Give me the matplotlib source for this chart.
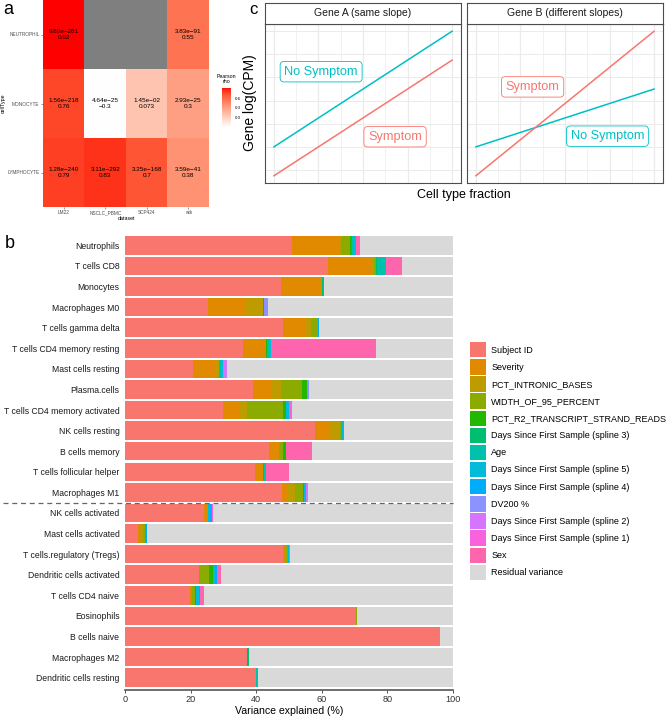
import numpy as np
import matplotlib
matplotlib.use("Agg")
import matplotlib.pyplot as plt
from matplotlib.colors import ListedColormap, Normalize
from matplotlib.patches import Patch

plt.rcParams['font.family'] = ['Liberation Sans', 'DejaVu Sans']

# ---------------- Panel a data ----------------
hm_datasets = ["LM22", "NSCLC_PBMC", "SCP424", "wtk"]
hm_celltypes = ["NEUTROPHIL", "MONOCYTE", "LYMPHOCYTE"]
hm_rho = [[0.92, np.nan, np.nan, 0.55],
          [0.76, -0.3, 0.073, 0.3],
          [0.79, 0.83, 0.7, 0.38]]
hm_p = [["9.89e\u2212281", None, None, "3.83e\u221291"],
        ["1.56e\u2212218", "4.64e\u221225", "1.45e\u221202", "2.93e\u221225"],
        ["1.28e\u2212240", "3.11e\u2212292", "3.25e\u2212168", "3.59e\u221241"]]
hm_rho_txt = [["0.92", None, None, "0.55"],
              ["0.76", "\u22120.3", "0.073", "0.3"],
              ["0.79", "0.83", "0.7", "0.38"]]
cbar_ticks = [0.0, 0.3, 0.6]

# ---------------- Panel b data ----------------
cell_types = ["Neutrophils", "T cells CD8", "Monocytes", "Macrophages M0",
              "T cells gamma delta", "T cells CD4 memory resting", "Mast cells resting",
              "Plasma.cells", "T cells CD4 memory activated", "NK cells resting",
              "B cells memory", "T cells follicular helper", "Macrophages M1",
              "NK cells activated", "Mast cells activated", "T cells.regulatory (Tregs)",
              "Dendritic cells activated", "T cells CD4 naive", "Eosinophils",
              "B cells naive", "Macrophages M2", "Dendritic cells resting"]
components = ["Subject ID", "Severity", "PCT_INTRONIC_BASES", "WIDTH_OF_95_PERCENT",
              "PCT_R2_TRANSCRIPT_STRAND_READS", "Days Since First Sample (spline 3)", "Age",
              "Days Since First Sample (spline 5)", "Days Since First Sample (spline 4)",
              "DV200 %", "Days Since First Sample (spline 2)",
              "Days Since First Sample (spline 1)", "Sex"]
comp_colors = ["#F8766D", "#E18A00", "#BE9C00", "#8CAB00", "#24B700", "#00BE70",
               "#00C1AB", "#00BBDA", "#00ACFC", "#8B93FF", "#D575FE", "#F962DD", "#FF65AC"]
residual_color = "#D9D9D9"

subject_id = [51.0, 62.0, 47.6, 25.4, 48.3, 36.1, 20.7, 39.0, 29.9, 58.0, 43.9, 39.7, 48.0,
              24.0, 4.1, 48.2, 22.5, 19.8, 70.5, 96.1, 37.1, 39.8]
severity = [14.4, 13.3, 12.3, 11.2, 6.8, 6.9, 6.8, 5.8, 5.0, 4.4, 2.9, 2.4, 1.6,
            1.1, 0.5, 0.7, 0.2, 0.3, 0, 0, 0, 0]
pct_intronic = [0.5, 0.7, 0.3, 5.4, 1.6, 0, 1.2, 2.8, 2.2, 3.0, 0.3, 0, 2.3,
                0.3, 1.0, 0.3, 0, 0.3, 0, 0, 0, 0]
width95 = [2.6, 0.6, 0, 0, 2.0, 0, 0, 6.3, 11.1, 0.4, 1.2, 0, 2.5,
           0, 0.6, 0.4, 2.8, 0.8, 0.3, 0, 0, 0]
pct_r2 = [0.4, 0, 0, 0.3, 0, 0.3, 0, 1.6, 0.8, 0, 0.7, 0, 0.3,
          0, 0, 0, 1.3, 0.3, 0, 0, 0.5, 0]
spline3 = [0.3, 0.2, 0.2, 0, 0, 0, 0, 0, 0, 0, 0, 0.4, 0,
           0, 0, 0, 0, 0, 0, 0, 0.3, 0]
age = [0.6, 2.5, 0.3, 0, 0, 0.6, 0.5, 0, 0, 0, 0, 0.4, 0,
       0, 0, 0, 0, 0, 0, 0, 0, 0.3]
spline5 = [0.7, 0.4, 0, 0.2, 0, 0.5, 0.6, 0, 1.0, 1.0, 0, 0, 0.4,
           0.6, 0, 0.3, 0.7, 1.1, 0, 0, 0, 0.3]
spline4 = [0, 0, 0, 0, 0.3, 0, 0, 0, 0, 0, 0, 0, 0,
           0.4, 0.4, 0, 0.4, 0.2, 0, 0, 0, 0]
dv200 = [0, 0, 0, 1.0, 0.2, 0, 0, 0.5, 0, 0, 0, 0, 0,
         0, 0, 0.4, 0.3, 0, 0, 0, 0, 0]
spline2 = [0, 0, 0, 0, 0, 0, 1.2, 0, 0, 0, 0, 0, 0.6,
           0, 0, 0, 0, 0, 0, 0, 0, 0]
spline1 = [0, 0, 0, 0, 0, 0, 0, 0, 0.9, 0, 0, 0, 0,
           0.3, 0, 0, 0, 0, 0, 0, 0, 0]
sex = [1.2, 4.7, 0, 0, 0, 32.0, 0, 0, 0, 0, 8.0, 7.0, 0,
       0, 0, 0, 1.0, 1.3, 0, 0, 0, 0]
comp_values = [subject_id, severity, pct_intronic, width95, pct_r2, spline3, age,
               spline5, spline4, dv200, spline2, spline1, sex]
x_ticks_b = [0, 20, 40, 60, 80, 100]

# ---------------- Panel c data ----------------
frac = [0.0, 1.0]
geneA_nosym = [0.2, 1.0]
geneA_sym = [0.0, 0.8]
geneB_nosym = [0.2, 0.6]
geneB_sym = [0.0, 1.0]
RED = "#F8766D"
TEAL = "#00BFC4"

W, H = 668, 719
fig = plt.figure(figsize=(W / 100, H / 100), dpi=100)


def fx(px):
    return px / W


def fy(py):
    return 1 - py / H


# ---------- Lab gradient (white -> red) like ggplot ----------
def srgb_to_lin(c):
    c = np.asarray(c, float)
    return np.where(c <= 0.04045, c / 12.92, ((c + 0.055) / 1.055) ** 2.4)


def lin_to_srgb(c):
    c = np.clip(c, 0, 1)
    return np.where(c <= 0.0031308, 12.92 * c, 1.055 * c ** (1 / 2.4) - 0.055)


M = np.array([[0.4124, 0.3576, 0.1805], [0.2126, 0.7152, 0.0722], [0.0193, 0.1192, 0.9505]])
Minv = np.linalg.inv(M)
WP = np.array([0.95047, 1.0, 1.08883])


def rgb_to_lab(rgb):
    xyz = M @ srgb_to_lin(rgb) / WP
    f = np.where(xyz > 0.008856, np.cbrt(xyz), 7.787 * xyz + 16 / 116)
    return np.array([116 * f[1] - 16, 500 * (f[0] - f[1]), 200 * (f[1] - f[2])])


def lab_to_rgb(lab):
    fy_ = (lab[0] + 16) / 116
    fx_ = fy_ + lab[1] / 500
    fz_ = fy_ - lab[2] / 200
    f = np.array([fx_, fy_, fz_])
    xyz = np.where(f ** 3 > 0.008856, f ** 3, (f - 16 / 116) / 7.787) * WP
    return lin_to_srgb(Minv @ xyz)


lab_lo = rgb_to_lab([1, 1, 1])
lab_hi = rgb_to_lab([1, 0, 0])
cm_colors = [lab_to_rgb(lab_lo + t * (lab_hi - lab_lo)) for t in np.linspace(0, 1, 256)]
cmap = ListedColormap(cm_colors)
cmap.set_bad("#7F7F7F")
rho_arr = np.array(hm_rho, float)
norm = Normalize(vmin=np.nanmin(rho_arr), vmax=np.nanmax(rho_arr))

# ---------------- Panel a ----------------
axa = fig.add_axes([fx(43), fy(207), fx(209 - 43), (207 - 0) / H])
axa.imshow(np.ma.masked_invalid(rho_arr), cmap=cmap, norm=norm, aspect="auto",
           interpolation="nearest")
for i in range(len(hm_celltypes)):
    for j in range(len(hm_datasets)):
        if hm_p[i][j] is not None:
            axa.text(j, i, hm_p[i][j] + "\n" + hm_rho_txt[i][j], ha="center", va="center",
                     fontsize=4.6, linespacing=1.3, color="black")
axa.set_xticks(range(len(hm_datasets)))
axa.set_xticklabels(hm_datasets)
axa.set_yticks(range(len(hm_celltypes)))
axa.set_yticklabels(hm_celltypes)
axa.tick_params(labelsize=3.4, colors="#4D4D4D", length=1.5, width=0.4, pad=1)
for s in axa.spines.values():
    s.set_visible(False)
axa.set_xlabel("dataset", fontsize=3.8, labelpad=0.5)
axa.set_ylabel("cellType", fontsize=3.8, labelpad=1)

cax = fig.add_axes([fx(222), fy(127), fx(9), 39 / H])
cb = fig.colorbar(plt.cm.ScalarMappable(norm=norm, cmap=cmap), cax=cax, ticks=cbar_ticks)
cb.outline.set_visible(False)
cb.ax.tick_params(labelsize=3.2, length=1.5, width=0.4, color="white", pad=1.5)
cb.ax.set_yticklabels(["0.0", "0.3", "0.6"])
fig.text(fx(226.5), fy(79), "Pearson\nrho", fontsize=3.8, ha="center", va="center",
         linespacing=1.2)

# ---------------- Panel c ----------------
panel_w = 196
c_lefts = [265, 467]
c_titles = ["Gene A (same slope)", "Gene B (different slopes)"]
c_series = [(geneA_nosym, geneA_sym), (geneB_nosym, geneB_sym)]
c_label_pos = [((0.265, 0.72), (0.68, 0.27)), ((0.738, 0.274), (0.318, 0.615))]
frame_col = "#4D4D4D"
for k in range(2):
    ax = fig.add_axes([fx(c_lefts[k]), fy(183), fx(panel_w), (183 - 24) / H])
    ax.set_xlim(-0.05, 1.05)
    ax.set_ylim(-0.05, 1.05)
    for gx in np.arange(0, 1.01, 0.125):
        ax.axvline(gx, color="#EBEBEB", lw=0.9 if (gx * 8) % 2 == 0 else 0.5, zorder=0)
    for gy in np.arange(0.04, 1.01, 0.16):
        ax.axhline(gy, color="#EBEBEB", lw=0.7, zorder=0)
    nos, sym = c_series[k]
    ax.plot(frac, nos, color=TEAL, lw=1.1)
    ax.plot(frac, sym, color=RED, lw=1.1)
    (nx, ny), (sx, sy) = c_label_pos[k]
    ax.text(nx, ny, "No Symptom", color=TEAL, fontsize=9.2, ha="center", va="center",
            bbox=dict(boxstyle="round,pad=0.33,rounding_size=0.3", fc="white", ec=TEAL, lw=0.6))
    ax.text(sx, sy, "Symptom", color=RED, fontsize=9.2, ha="center", va="center",
            bbox=dict(boxstyle="round,pad=0.33,rounding_size=0.3", fc="white", ec=RED, lw=0.6))
    ax.set_xticks([])
    ax.set_yticks([])
    for s in ax.spines.values():
        s.set_color(frame_col)
        s.set_linewidth(0.8)
    sax = fig.add_axes([fx(c_lefts[k]), fy(24), fx(panel_w), 21 / H])
    sax.set_facecolor("white")
    sax.set_xticks([])
    sax.set_yticks([])
    for s in sax.spines.values():
        s.set_color(frame_col)
        s.set_linewidth(0.8)
    sax.text(0.5, 0.5, c_titles[k], ha="center", va="center", fontsize=7.5, color="#1A1A1A",
             transform=sax.transAxes)
fig.text(fx(250), fy(103), "Gene log(CPM)", rotation=90, fontsize=10, ha="center", va="center")
fig.text(fx(464), fy(195), "Cell type fraction", fontsize=9, ha="center", va="center")

# ---------------- Panel b ----------------
axb = fig.add_axes([fx(125), fy(690), fx(453 - 125), (690 - 233) / H])
n = len(cell_types)
ypos = np.arange(n)
left = np.zeros(n)
for vals, col, name in zip(comp_values, comp_colors, components):
    v = np.array(vals, float)
    axb.barh(ypos, v, left=left, height=0.9, color=col, label=name, lw=0)
    left += v
residual = 100 - left
axb.barh(ypos, residual, left=left, height=0.9, color=residual_color,
         label="Residual variance", lw=0)
axb.set_xlim(0, 100)
axb.set_ylim(n - 0.4, -0.6)
axb.set_yticks(ypos)
axb.set_yticklabels(cell_types)
axb.set_xticks(x_ticks_b)
axb.tick_params(axis="y", length=0, labelsize=6.2, pad=4, colors="#1A1A1A")
axb.tick_params(axis="x", length=2, width=0.6, colors="#333333", labelsize=6.6, pad=1.5)
for s in ["top", "right", "left"]:
    axb.spines[s].set_visible(False)
axb.spines["bottom"].set_color("#555555")
axb.spines["bottom"].set_linewidth(1.2)
axb.set_xlabel("Variance explained (%)", fontsize=7.6, labelpad=1.5)
axb.axhline(12.5, xmin=-0.372, xmax=1, color="#666666", lw=0.9, ls=(0, (4, 3)),
            clip_on=False)

handles = [Patch(facecolor=c, edgecolor="none") for c in comp_colors + [residual_color]]
labels = components + ["Residual variance"]
fig.legend(handles, labels, loc="upper left", bbox_to_anchor=(fx(470), fy(342)),
           frameon=False, fontsize=6.5, handlelength=1.75, handleheight=2.25,
           handletextpad=0.6, labelspacing=0.19, borderpad=0, borderaxespad=0)

# panel letters
fig.text(fx(8), fy(9), "a", fontsize=13, ha="center", va="center")
fig.text(fx(10), fy(244), "b", fontsize=13, ha="center", va="center")
fig.text(fx(253), fy(9), "c", fontsize=12, ha="center", va="center")

fig.savefig("out.png", dpi=100)
